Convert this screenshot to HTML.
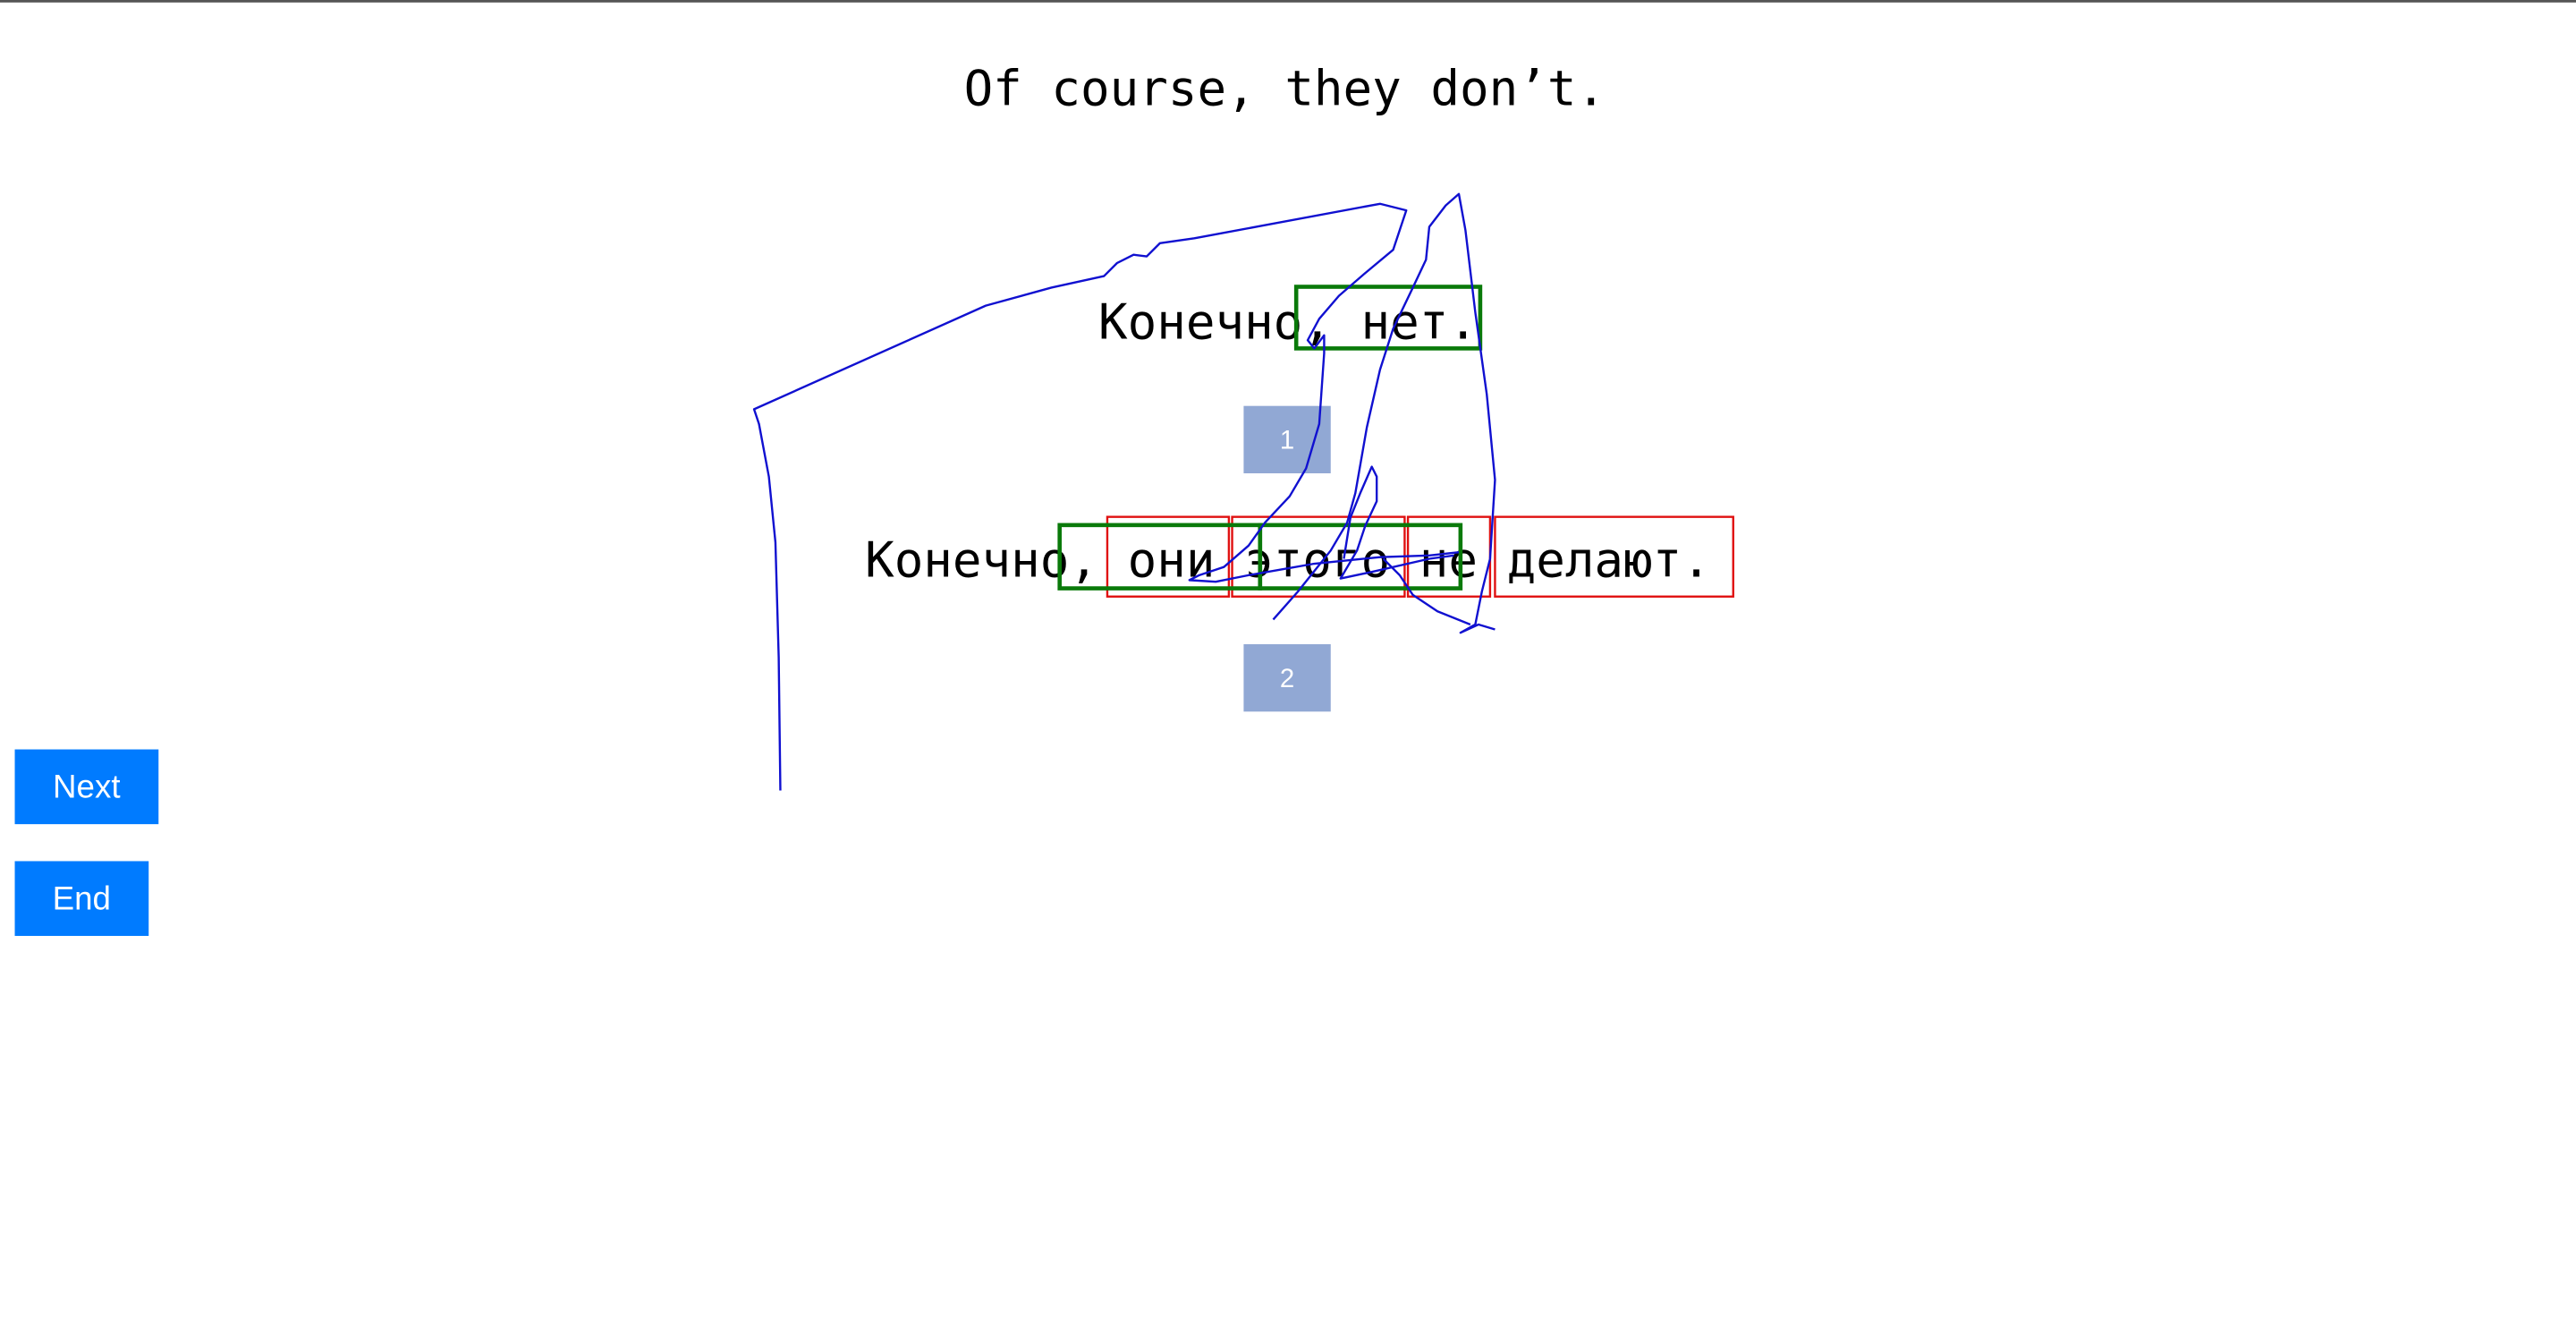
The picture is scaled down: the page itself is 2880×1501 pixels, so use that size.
<!DOCTYPE html>
<html><head><meta charset="utf-8"><style>
html,body{margin:0;padding:0;background:#fff;width:2880px;height:1501px;overflow:hidden}
svg{display:block}
</style></head><body>
<svg width="2880" height="1501" viewBox="0 0 1568 817.2" xmlns="http://www.w3.org/2000/svg">
<rect x="0" y="0" width="1568" height="1.5" fill="#555"/>
<g font-family="DejaVu Sans Mono, Liberation Mono, monospace" font-size="29.5" fill="#000" text-anchor="middle">
<text x="782" y="64">Of course, they don’t.</text>
<text x="784" y="206">Конечно, нет.</text>
<text x="784" y="351">Конечно, они этого не делают.</text>
</g>
<rect x="789" y="174.5" width="112" height="37.5" fill="none" stroke="#0a7a0a" stroke-width="2.5"/>
<rect x="757" y="247" width="53" height="41" fill="#91a8d4"/>
<text x="783.5" y="273" font-family="Liberation Sans, sans-serif" font-size="16" fill="#fff" text-anchor="middle">1</text>
<g fill="none" stroke="#e01010" stroke-width="1.3">
<rect x="674" y="314.5" width="74" height="48.5"/>
<rect x="750" y="314.5" width="105" height="48.5"/>
<rect x="857" y="314.5" width="50" height="48.5"/>
<rect x="910" y="314.5" width="145" height="48.5"/>
</g>
<g fill="none" stroke="#0a7a0a" stroke-width="2.5">
<rect x="645" y="319.5" width="122" height="38.5"/>
<rect x="767" y="319.5" width="122" height="38.5"/>
</g>
<rect x="757" y="392" width="53" height="41" fill="#91a8d4"/>
<text x="783.5" y="418" font-family="Liberation Sans, sans-serif" font-size="16" fill="#fff" text-anchor="middle">2</text>
<g fill="none" stroke="#1010d0" stroke-width="1.3" stroke-linejoin="round">
<path d="M475,481 L474,400 L472,330 L468,290 L462,258 L459,249 L600,186 L640,175 L672,168 L680,160 L690,155 L698,156 L706,148 L727,145 L840,124 L856,128 L848,152 L830,167 L815,180 L803,194 L796,207 L800,212 L806,204 L806,215 L803,258 L795,285 L785,302 L770,318 L760,332 L745,345 L730,350 L724,353 L740,354 L760,350 L800,343 L840,339 L870,338 L888,336"/>
<path d="M775,377 L790,360 L810,335 L820,318 L825,300 L832,260 L840,225 L848,200 L860,175 L868,158 L870,138 L880,125 L888,118 L892,140 L898,190 L905,240 L910,292 L907,340 L902,360 L898,380 L889,385 L900,380 L910,383"/>
<path d="M818,340 L822,315 L828,300 L835,284 L838,290 L838,305 L831,320 L826,335 L816,352 L835,348 L870,340 L885,338"/>
<path d="M842,340 L852,350 L860,362 L875,372 L895,380"/>
</g>
<rect x="9" y="456" width="87.5" height="45.5" fill="#007bff"/>
<text x="52.7" y="485.5" font-family="Liberation Sans, Arial, sans-serif" font-size="20" fill="#fff" text-anchor="middle">Next</text>
<rect x="9" y="524" width="81.5" height="45.5" fill="#007bff"/>
<text x="49.7" y="553.5" font-family="Liberation Sans, Arial, sans-serif" font-size="20" fill="#fff" text-anchor="middle">End</text>
</svg>
</body></html>
